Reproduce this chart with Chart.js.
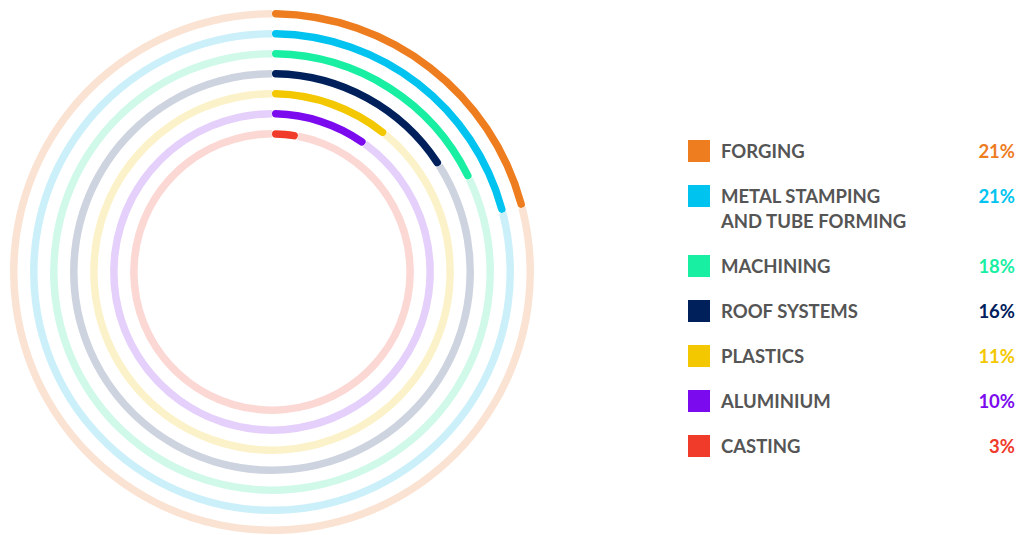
<!DOCTYPE html>
<html>
<head>
<meta charset="utf-8">
<script src="https://cdn.jsdelivr.net/npm/chart.js@4"></script>
<style>
  html, body {
    margin: 0;
    width: 1019px;
    height: 535px;
    overflow: hidden;
    background: #ffffff;
    font-family: Lato, "Open Sans", sans-serif;
  }
  .ring-wrap {
    position: absolute;
    left: 0;
    top: 0;
    width: 544px;
    height: 544px;
  }
  .legend {
    position: absolute;
    left: 688px;
    top: 139px;
    width: 327px;
    display: flex;
    flex-direction: column;
    gap: 20px;
  }
  .legend-row {
    display: flex;
    align-items: flex-start;
    font-weight: 700;
    font-size: 18.5px;
    line-height: 25px;
  }
  .legend-swatch {
    flex: 0 0 22px;
    height: 22px;
    margin-top: 1px;
  }
  .legend-label {
    flex: 1;
    margin-left: 11px;
    color: #555555;
    white-space: pre-line;
  }
  .legend-value {
    text-align: right;
  }
</style>
</head>
<body>
<div class="ring-wrap"><canvas id="ringChart"></canvas></div>
<div class="legend" id="ringLegend"></div>

<script>
const categories = [
  "FORGING",
  "METAL STAMPING\nAND TUBE FORMING",
  "MACHINING",
  "ROOF SYSTEMS",
  "PLASTICS",
  "ALUMINIUM",
  "CASTING",
];
const shares = [21, 21, 18, 16, 11, 10, 3];
const ringColors = ["#ee7d1f", "#00c4ef", "#19efa3", "#00205b", "#f3c800", "#7c0aee", "#f03a2a"];
const trackColors = ["#fbe3d3", "#ccf0fa", "#d0f9ea", "#cdd3df", "#fcf2c9", "#e5cffb", "#fcd8d4"];

const FULL_SCALE = 100;
const RING_WEIGHT = 7.5;
const GAP_WEIGHT = 12.5;

function buildDatasets() {
  const datasets = [];
  shares.forEach((value, index) => {
    datasets.push({
      label: categories[index],
      data: [value, FULL_SCALE - value],
      backgroundColor: [ringColors[index], trackColors[index]],
      borderWidth: 0,
      borderRadius(ctx) {
        return ctx.dataIndex === 0 ? 4 : 0;
      },
      weight: RING_WEIGHT,
    });
    // transparent spacer ring between the tracks
    if (index < shares.length - 1) {
      datasets.push({
        label: "",
        data: [FULL_SCALE],
        backgroundColor: "rgba(0,0,0,0)",
        borderWidth: 0,
        weight: GAP_WEIGHT,
      });
    }
  });
  return datasets;
}

function renderLegend() {
  const el = document.getElementById("ringLegend");
  el.innerHTML = categories
    .map(
      (name, index) => `
        <div class="legend-row">
          <div class="legend-swatch" style="background:${ringColors[index]}"></div>
          <div class="legend-label">${name}</div>
          <div class="legend-value" style="color:${ringColors[index]}">${shares[index]}%</div>
        </div>
      `,
    )
    .join("");
}

new Chart(document.getElementById("ringChart"), {
  type: "doughnut",
  data: {
    labels: ["value", "rest"],
    datasets: buildDatasets(),
  },
  options: {
    responsive: true,
    maintainAspectRatio: false,
    animation: false,
    events: [],
    cutout: "51.3%",
    layout: { padding: 10 },
    plugins: {
      legend: { display: false },
      tooltip: { enabled: false },
    },
  },
});

renderLegend();
</script>
</body>
</html>
